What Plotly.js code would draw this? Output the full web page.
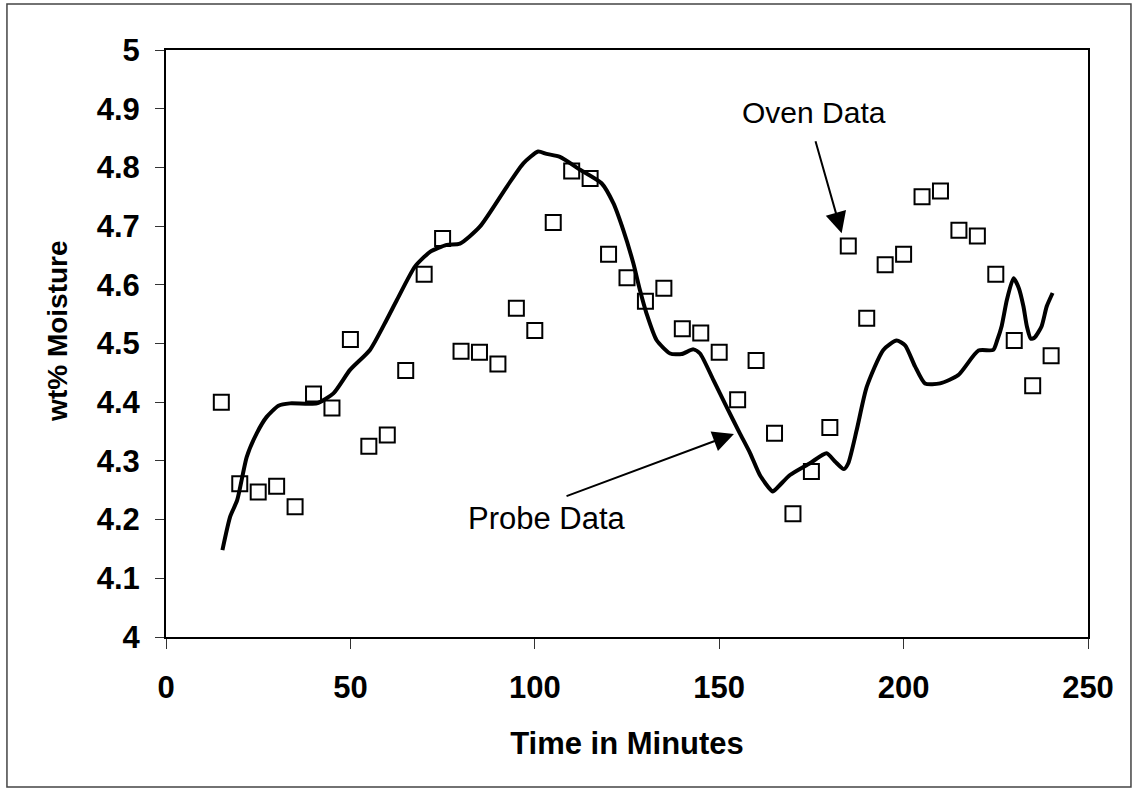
<!DOCTYPE html>
<html>
<head>
<meta charset="utf-8">
<script src="https://cdn.plot.ly/plotly-3.0.1.min.js"></script>
<style>
  html, body { margin: 0; padding: 0; background: #ffffff; }
  #chart { width: 1136px; height: 793px; }
</style>
</head>
<body>
<div id="chart"></div>
<script>
// Oven data (open squares), minutes vs wt% moisture
const ovenTime = [15,20,25,30,35,40,45,50,55,60,65,70,75,80,85,90,95,100,105,110,115,120,125,130,135,140,145,150,155,160,165,170,175,180,185,190,195,200,205,210,215,220,225,230,235,240];
const ovenMoisture = [4.400,4.261,4.247,4.257,4.222,4.414,4.390,4.507,4.325,4.344,4.454,4.618,4.679,4.487,4.485,4.465,4.560,4.522,4.706,4.794,4.781,4.652,4.612,4.572,4.594,4.525,4.518,4.485,4.404,4.471,4.347,4.210,4.282,4.357,4.666,4.543,4.634,4.652,4.750,4.760,4.693,4.683,4.618,4.505,4.428,4.479];

// Probe data (continuous line)
const probeTime = [15.3,17.4,19.3,21.9,24.6,27.3,30.5,33.6,40.9,45.4,49.9,55.3,59.8,62.6,67.5,71.6,76.1,79.7,85.1,92.4,96.9,100.9,103.2,106.8,112.3,118.1,121.3,124.0,126.7,128.5,130.3,133.0,136.7,139.8,143.0,144.8,148.4,152.0,155.6,158.4,161.1,164.5,166.0,169.2,174.6,179.1,181.4,183.8,185.0,187.3,190.0,194.5,198.1,200.4,203.1,205.8,209.9,214.8,220.3,224.3,225.4,226.6,228.0,229.8,231.2,232.5,233.4,234.5,235.5,237.4,238.8,240.4];
const probeMoisture = [4.148,4.205,4.233,4.307,4.347,4.375,4.394,4.398,4.398,4.415,4.455,4.489,4.540,4.574,4.631,4.656,4.668,4.670,4.699,4.767,4.807,4.827,4.823,4.818,4.796,4.773,4.739,4.693,4.637,4.591,4.551,4.506,4.483,4.482,4.490,4.483,4.438,4.392,4.347,4.313,4.275,4.248,4.256,4.276,4.296,4.313,4.299,4.286,4.296,4.353,4.426,4.489,4.505,4.497,4.461,4.432,4.432,4.446,4.488,4.489,4.506,4.530,4.574,4.611,4.595,4.563,4.530,4.508,4.510,4.529,4.563,4.586];

// Axis ticks
const xTickVals = [0,50,100,150,200,250];
const xTickText = ['0','50','100','150','200','250'];
const yTickVals = [4,4.1,4.2,4.3,4.4,4.5,4.6,4.7,4.8,4.9,5];
const yTickText = ['4','4.1','4.2','4.3','4.4','4.5','4.6','4.7','4.8','4.9','5'];

// Labels
const xTitle = 'Time in Minutes';
const yTitle = 'wt% Moisture';
const labelTexts = ['Oven Data', 'Probe Data'];
const labelSizes = [30, 31];
const labelX = [175.7, 103.2];
const labelY = [4.894, 4.202];
const arrowTipX = [183.2, 154.0];
const arrowTipY = [4.688, 4.346];
const arrowTailX = [176.0, 108.2];
const arrowTailY = [4.847, 4.239];

const FONT = 'Liberation Sans, Arial, sans-serif';

const traces = [
  {
    x: probeTime, y: probeMoisture,
    type: 'scatter', mode: 'lines', name: 'Probe Data',
    line: { color: '#000000', width: 4, shape: 'spline', smoothing: 0.6 },
    hoverinfo: 'x+y'
  },
  {
    x: ovenTime, y: ovenMoisture,
    type: 'scatter', mode: 'markers', name: 'Oven Data',
    marker: { symbol: 'square-open', size: 15, color: '#000000', line: { width: 2, color: '#000000' } }
  }
];

const annotations = [];
for (let i = 0; i < labelTexts.length; i++) {
  annotations.push({
    x: labelX[i], y: labelY[i], xref: 'x', yref: 'y',
    text: labelTexts[i], showarrow: false,
    font: { family: FONT, size: labelSizes[i], color: '#000000' }
  });
  annotations.push({
    x: arrowTipX[i], y: arrowTipY[i], xref: 'x', yref: 'y',
    ax: arrowTailX[i], ay: arrowTailY[i], axref: 'x', ayref: 'y',
    text: '', showarrow: true, arrowhead: 2, arrowsize: 2.1, arrowwidth: 2, arrowcolor: '#000000'
  });
}
annotations.push({
  x: -0.117, y: 0.52, xref: 'paper', yref: 'paper',
  text: yTitle, textangle: -90, showarrow: false,
  xanchor: 'center', yanchor: 'middle',
  font: { family: FONT, size: 28, color: '#000000', weight: 'bold' }
});

const layout = {
  width: 1136, height: 793,
  margin: { l: 166, r: 48, t: 50, b: 156, pad: 0 },
  paper_bgcolor: '#ffffff', plot_bgcolor: '#ffffff',
  showlegend: false,
  xaxis: {
    range: [0, 250], tickmode: 'array', tickvals: xTickVals, ticktext: xTickText,
    showgrid: false, zeroline: false,
    showline: true, linecolor: '#000000', linewidth: 2, mirror: true,
    ticks: 'outside', ticklen: 10, tickwidth: 1, tickcolor: '#333333',
    ticklabelstandoff: 12,
    tickfont: { family: FONT, size: 31, color: '#000000', weight: 'bold' },
    title: { text: xTitle, standoff: 28, font: { family: FONT, size: 31, color: '#000000', weight: 'bold' } }
  },
  yaxis: {
    range: [4, 5], tickmode: 'array', tickvals: yTickVals, ticktext: yTickText,
    showgrid: false, zeroline: false,
    showline: true, linecolor: '#000000', linewidth: 2, mirror: true,
    ticks: 'outside', ticklen: 9, tickwidth: 1, tickcolor: '#333333',
    ticklabelstandoff: 9,
    tickfont: { family: FONT, size: 31, color: '#000000', weight: 'bold' }
  },
  annotations: annotations,
  shapes: [
    { type: 'rect', xref: 'paper', yref: 'paper',
      x0: -0.1725, x1: 1.0466, y0: -0.2555, y1: 1.0784,
      line: { color: '#444444', width: 1.5 }, fillcolor: 'rgba(0,0,0,0)', layer: 'below' }
  ]
};

Plotly.newPlot('chart', traces, layout, { displayModeBar: false, staticPlot: true });
</script>
</body>
</html>
